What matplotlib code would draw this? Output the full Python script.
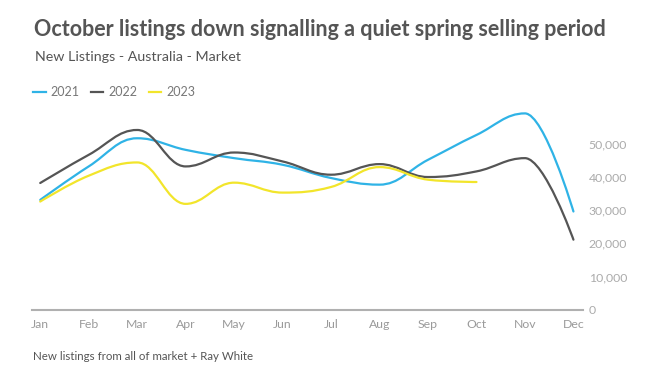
import matplotlib
matplotlib.use("Agg")
import matplotlib.pyplot as plt
from matplotlib.path import Path
from matplotlib.patches import PathPatch
from matplotlib.lines import Line2D

plt.rcParams["font.family"] = ["Lato", "DejaVu Sans"]

# Data
months = ["Jan", "Feb", "Mar", "Apr", "May", "Jun",
          "Jul", "Aug", "Sep", "Oct", "Nov", "Dec"]
listings_2021 = [33100, 43200, 51700, 48200, 45700, 43700,
                 39700, 37700, 45200, 52700, 59200, 29600]
listings_2022 = [38200, 46700, 54200, 43200, 47400, 44700,
                 40700, 43900, 40000, 41700, 45700, 21100]
listings_2023 = [32600, 40400, 44400, 31900, 38300, 35300,
                 37000, 43000, 39200, 38500]
y_ticks = [0, 10000, 20000, 30000, 40000, 50000]

colors = {"2021": "#2fb3e6", "2022": "#555555", "2023": "#f2e52b"}


def spline_path(ys):
    # smooth curve through the points (spline style, smoothing 1.5)
    xs = list(range(len(ys)))
    n = len(ys)
    left = [(xs[i], ys[i]) for i in range(n)]
    right = [(xs[i], ys[i]) for i in range(n)]
    s = 1.5
    d = s + 1
    for i in range(1, n - 1):
        x, y = xs[i], ys[i]
        lx, ly = xs[i - 1], ys[i - 1]
        nx, ny = xs[i + 1], ys[i + 1]
        lcx = (s * x + lx) / d
        lcy = (s * y + ly) / d
        rcx = (s * x + nx) / d
        rcy = (s * y + ny) / d
        corr = (rcy - lcy) * (rcx - x) / (rcx - lcx) + y - rcy
        lcy += corr
        rcy += corr
        if lcy > ly and lcy > y:
            lcy = max(ly, y)
            rcy = 2 * y - lcy
        elif lcy < ly and lcy < y:
            lcy = min(ly, y)
            rcy = 2 * y - lcy
        if rcy > ny and rcy > y:
            rcy = max(ny, y)
            lcy = 2 * y - rcy
        elif rcy < ny and rcy < y:
            rcy = min(ny, y)
            lcy = 2 * y - rcy
        left[i] = (lcx, lcy)
        right[i] = (rcx, rcy)
    verts = [(xs[0], ys[0])]
    codes = [Path.MOVETO]
    for i in range(1, n):
        verts += [right[i - 1], left[i], (xs[i], ys[i])]
        codes += [Path.CURVE4] * 3
    return Path(verts, codes)


fig = plt.figure(figsize=(6.53, 3.78), dpi=100)
ax = fig.add_axes([0.049, 0.181, 0.844, 0.526])

for year, vals in [("2021", listings_2021), ("2022", listings_2022), ("2023", listings_2023)]:
    patch = PathPatch(spline_path(vals), facecolor="none", edgecolor=colors[year],
                      lw=1.6, capstyle="round", joinstyle="round")
    ax.add_patch(patch)

ax.set_xlim(-0.17, 11.2)
ax.set_ylim(0, 60000)

ax.set_xticks(range(len(months)))
ax.set_xticklabels(months)
ax.yaxis.tick_right()
ax.set_yticks(y_ticks)
ax.set_yticklabels([f"{v:,}" for v in y_ticks])
ax.tick_params(axis="x", length=0, pad=7, labelsize=8.8, labelcolor="#9a9a9a")
ax.tick_params(axis="y", length=0, pad=4, labelsize=8.8, labelcolor="#ababab")

for side in ["top", "left", "right"]:
    ax.spines[side].set_visible(False)
ax.spines["bottom"].set_color("#b0b0b0")
ax.spines["bottom"].set_linewidth(1.5)

fig.text(34 / 653, 1 - 30 / 378, "October listings down signalling a quiet spring selling period",
         fontsize=15.5, fontweight="bold", color="#555555", ha="left", va="center")
fig.text(35 / 653, 1 - 57 / 378, "New Listings - Australia - Market",
         fontsize=10.3, color="#555555", ha="left", va="center")
fig.text(33 / 653, 1 - 357 / 378, "New listings from all of market + Ray White",
         fontsize=8.3, color="#555555", ha="left", va="center")

handles = [Line2D([], [], color=colors[y], lw=1.6) for y in ["2021", "2022", "2023"]]
fig.legend(handles, ["2021", "2022", "2023"], loc="center left",
           bbox_to_anchor=(28 / 653, 1 - 92 / 378), ncol=3, frameon=False,
           fontsize=9, labelcolor="#777777", handlelength=1.0, handletextpad=0.4,
           columnspacing=0.9, borderaxespad=0)

fig.savefig("out.png", dpi=100)
